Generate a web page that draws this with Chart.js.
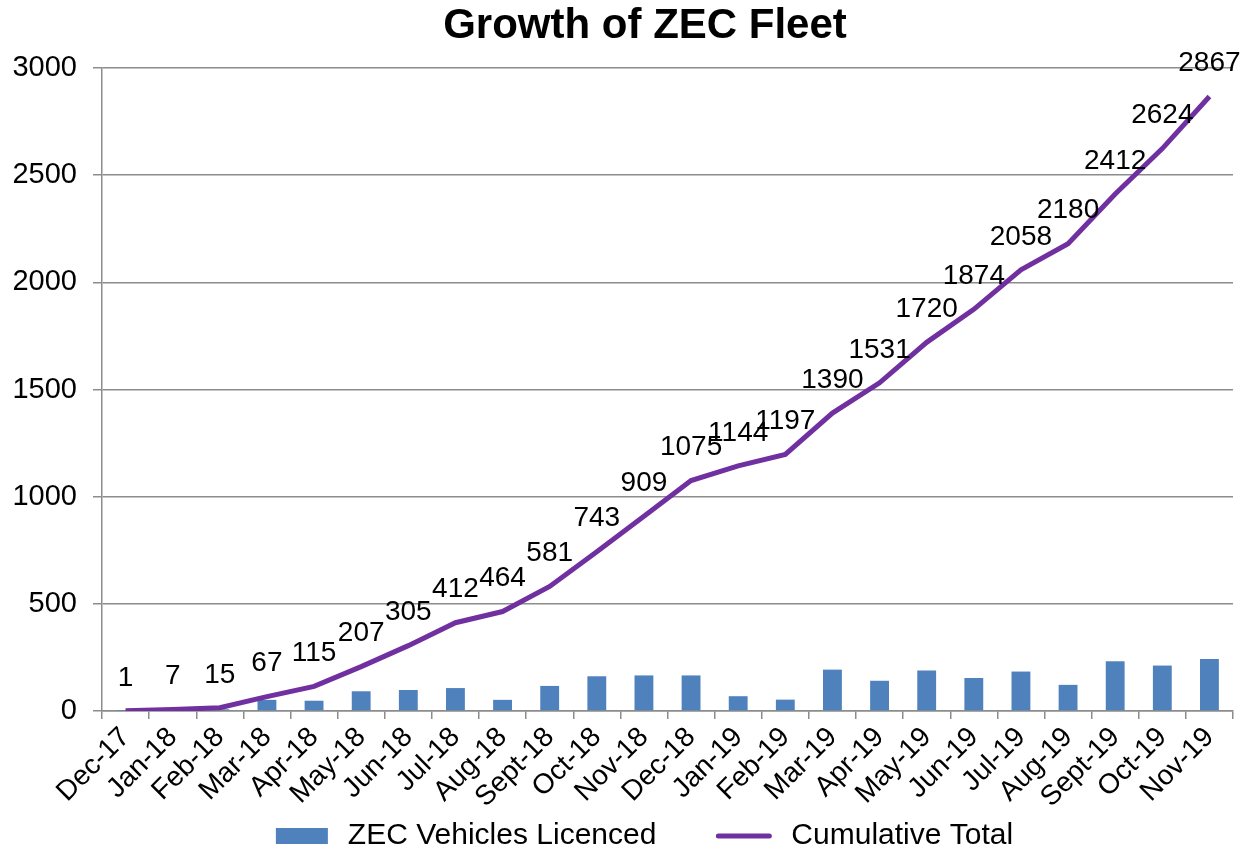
<!DOCTYPE html>
<html>
<head>
<meta charset="utf-8">
<script src="https://cdn.jsdelivr.net/npm/chart.js@4"></script>
<style>
  html, body { margin: 0; padding: 0; background: #fff; }
  #wrap { width: 1255px; height: 852px; position: relative; }
</style>
</head>
<body>
<div id="wrap"><canvas id="c" width="1255" height="852"></canvas></div>
<script>
const months = ["Dec-17","Jan-18","Feb-18","Mar-18","Apr-18","May-18","Jun-18","Jul-18","Aug-18","Sept-18","Oct-18","Nov-18","Dec-18","Jan-19","Feb-19","Mar-19","Apr-19","May-19","Jun-19","Jul-19","Aug-19","Sept-19","Oct-19","Nov-19"];
const licenced = [1, 6, 8, 52, 48, 92, 98, 107, 52, 117, 162, 166, 166, 69, 53, 193, 141, 189, 154, 184, 122, 232, 212, 243];
const cumulative = [1, 7, 15, 67, 115, 207, 305, 412, 464, 581, 743, 909, 1075, 1144, 1197, 1390, 1531, 1720, 1874, 2058, 2180, 2412, 2624, 2867];
const yTicks = [0, 500, 1000, 1500, 2000, 2500, 3000];
const titleText = "Growth of ZEC Fleet";
const seriesNames = ["ZEC Vehicles Licenced", "Cumulative Total"];

const FONT = "'Liberation Sans', Arial, sans-serif";
const BAR_COLOR = "#4F81BD";
const LINE_COLOR = "#7030A0";
const GRID = "#8C8C8C";

const extras = {
  id: "extras",
  afterDatasetsDraw(chart) {
    const ctx = chart.ctx;
    const meta = chart.getDatasetMeta(1);
    ctx.save();
    ctx.fillStyle = "#000";
    ctx.font = "28px " + FONT;
    ctx.textAlign = "center";
    ctx.textBaseline = "middle";
    meta.data.forEach((pt, i) => {
      const txt = String(cumulative[i]);
      let x = pt.x;
      const w = ctx.measureText(txt).width;
      if (x + w / 2 > chart.width - 2) x = chart.width - 2 - w / 2;
      ctx.fillText(txt, x, pt.y - 33);
    });
    ctx.restore();
  },
  afterDraw(chart) {
    const ctx = chart.ctx;
    ctx.save();
    ctx.fillStyle = "#000";
    ctx.font = "bold 42px " + FONT;
    ctx.textAlign = "center";
    ctx.textBaseline = "middle";
    ctx.fillText(titleText, 645, 26);
    // legend
    ctx.font = "30px " + FONT;
    ctx.textAlign = "left";
    const sw1 = 52, sw2 = 55, gap = 20, between = 60;
    const w1 = ctx.measureText(seriesNames[0]).width;
    const w2 = ctx.measureText(seriesNames[1]).width;
    const total = sw1 + gap + w1 + between + sw2 + gap + w2;
    let x = 644.5 - total / 2;
    const cy = 836;
    ctx.fillStyle = BAR_COLOR;
    ctx.fillRect(x, cy - 8, sw1, 16);
    x += sw1 + gap;
    ctx.fillStyle = "#000";
    ctx.fillText(seriesNames[0], x, cy);
    x += w1 + between;
    ctx.strokeStyle = LINE_COLOR;
    ctx.lineWidth = 5;
    ctx.lineCap = "round";
    ctx.beginPath();
    ctx.moveTo(x + 2, cy);
    ctx.lineTo(x + sw2 - 2, cy);
    ctx.stroke();
    x += sw2 + gap;
    ctx.fillStyle = "#000";
    ctx.fillText(seriesNames[1], x, cy);
    ctx.restore();
  }
};

new Chart(document.getElementById("c"), {
  data: {
    labels: months,
    datasets: [
      {
        type: "bar",
        label: seriesNames[0],
        data: licenced,
        backgroundColor: BAR_COLOR,
        borderWidth: 0,
        barPercentage: 0.4,
        categoryPercentage: 1.0,
        order: 2
      },
      {
        type: "line",
        label: seriesNames[1],
        data: cumulative,
        borderColor: LINE_COLOR,
        backgroundColor: LINE_COLOR,
        borderWidth: 5,
        pointRadius: 0,
        tension: 0,
        fill: false,
        order: 1
      }
    ]
  },
  options: {
    responsive: false,
    animation: false,
    maintainAspectRatio: false,
    layout: { padding: { top: 68, left: 0, right: 22, bottom: 0 } },
    plugins: {
      legend: { display: false },
      title: { display: false },
      tooltip: { enabled: false }
    },
    scales: {
      x: {
        offset: true,
        grid: {
          offset: true,
          drawOnChartArea: false,
          drawTicks: true,
          tickLength: 8,
          color: GRID,
          lineWidth: 1.5
        },
        border: { color: GRID, width: 1.5 },
        ticks: {
          color: "#000",
          font: { family: FONT, size: 28 },
          minRotation: 45,
          maxRotation: 45,
          autoSkip: false,
          padding: 2
        },
        afterFit(scale) { scale.height = 141; }
      },
      y: {
        min: 0,
        max: 3000,
        afterBuildTicks(scale) { scale.ticks = yTicks.map(v => ({ value: v })); },
        grid: {
          color: GRID,
          lineWidth: 1.5,
          tickLength: 9,
          drawTicks: true
        },
        border: { color: GRID, width: 1.5 },
        ticks: {
          color: "#000",
          font: { family: FONT, size: 29 },
          padding: 16,
          callback: (v) => String(v)
        },
        afterFit(scale) { scale.width = 102; }
      }
    }
  },
  plugins: [extras]
});
</script>
</body>
</html>
